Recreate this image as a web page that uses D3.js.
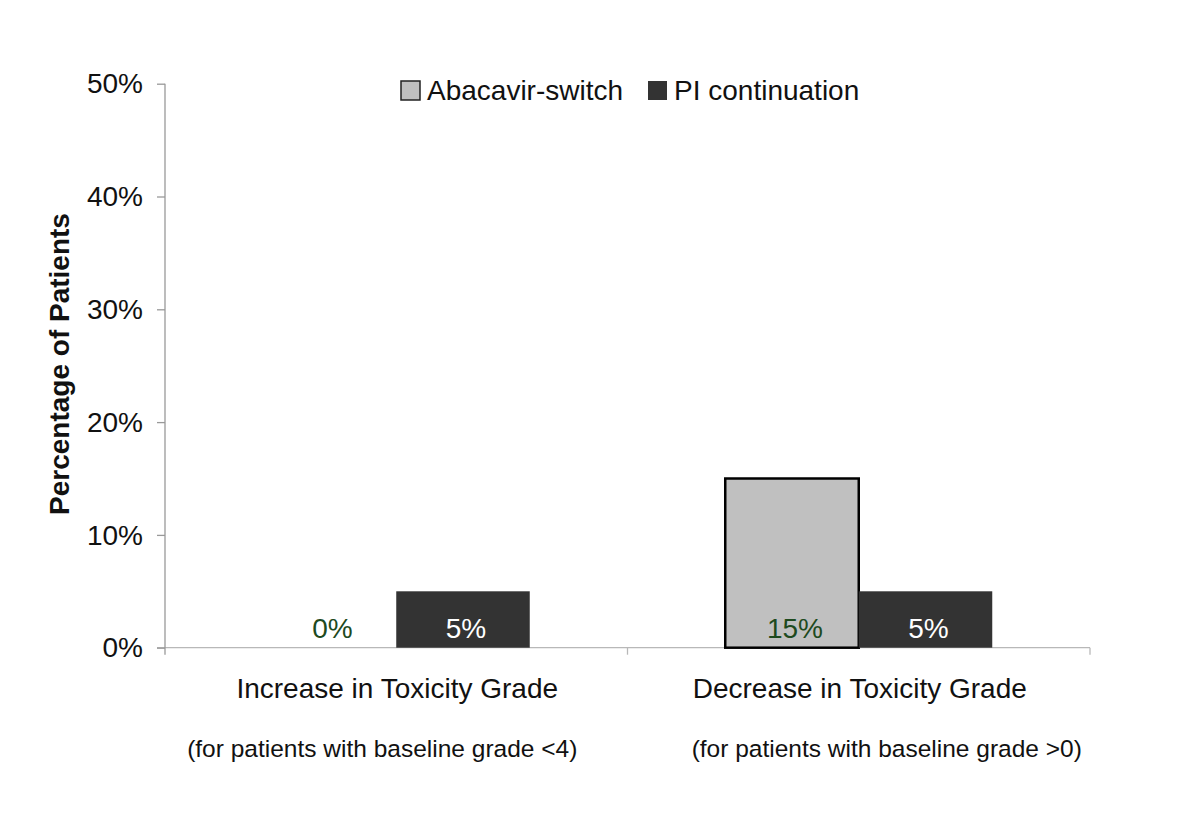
<!DOCTYPE html>
<html>
<head>
<meta charset="utf-8">
<script src="https://cdn.jsdelivr.net/npm/d3@7"></script>
<style>
  body { margin: 0; background: #fff; }
  svg { display: block; font-family: "Liberation Sans", Arial, sans-serif; }
</style>
</head>
<body>
<svg id="chart" width="1200" height="822"></svg>
<script>
const categories = ["Increase in Toxicity Grade", "Decrease in Toxicity Grade"];
const subtitles = ["(for patients with baseline grade <4)", "(for patients with baseline grade >0)"];
const seriesNames = ["Abacavir-switch", "PI continuation"];
const abacavirSwitch = [0, 0.15];
const piContinuation = [0.05, 0.05];
const yTicks = [0, 0.1, 0.2, 0.3, 0.4, 0.5];

(function () {
const svg = d3.select("#chart");
const mLeft = 165, mRight = 1090, mTop = 83.7, mBottom = 647.7;

const y = d3.scaleLinear().domain([0, 0.5]).range([mBottom, mTop]);
const x = d3.scaleBand().domain(categories).range([mLeft, mRight]).padding(0);
const barW = 133.5;
const xs = d3.scaleBand().domain(seriesNames).range([0, barW * 2]).padding(0);
const offset = (x.bandwidth() - barW * 2) / 2;

const fills = {"Abacavir-switch": "#c0c0c0", "PI continuation": "#333333"};
const labelColors = {"Abacavir-switch": "#1e4a1e", "PI continuation": "#ffffff"};

// x axis line
svg.append("line").attr("x1", mLeft - 8).attr("x2", mRight).attr("y1", mBottom).attr("y2", mBottom)
  .attr("stroke", "#b8b8b8").attr("stroke-width", 1.3);
const xBounds = [mLeft + x.bandwidth(), mRight];
svg.selectAll(".xtick").data(xBounds).enter().append("line")
  .attr("x1", d => d).attr("x2", d => d).attr("y1", mBottom).attr("y2", mBottom + 7)
  .attr("stroke", "#b8b8b8").attr("stroke-width", 1.3);

// y axis
const yAxis = d3.axisLeft(y).tickValues(yTicks).tickFormat(d3.format(".0%")).tickSize(8).tickPadding(14);
const gy = svg.append("g").attr("transform", `translate(${mLeft},0)`).call(yAxis);
gy.select(".domain").attr("d", `M0,${mTop}V${mBottom + 7}`).attr("stroke", "#999").attr("stroke-width", 1.3);
gy.selectAll(".tick line").attr("stroke", "#999").attr("stroke-width", 1.3);
gy.selectAll(".tick text").attr("font-size", 28).attr("fill", "#111")
  .attr("font-family", "Liberation Sans, Arial, sans-serif").attr("dy", "0.33em");

// y title
svg.append("text").attr("transform", "translate(69,364) rotate(-90)")
  .attr("text-anchor", "middle").attr("font-size", 28).attr("font-weight", "bold").attr("fill", "#111")
  .text("Percentage of Patients");

// bars
const rows = categories.map((c, i) => ({cat: c, vals: [
  {s: seriesNames[0], v: abacavirSwitch[i]},
  {s: seriesNames[1], v: piContinuation[i]}
]}));

const groups = svg.selectAll(".grp").data(rows).enter().append("g")
  .attr("transform", d => `translate(${x(d.cat) + offset},0)`);

groups.selectAll("rect").data(d => d.vals.filter(e => e.v > 0)).enter().append("rect")
  .attr("x", d => xs(d.s)).attr("width", xs.bandwidth())
  .attr("y", d => y(d.v)).attr("height", d => y(0) - y(d.v))
  .attr("fill", d => fills[d.s])
  .attr("stroke", d => d.s === seriesNames[0] ? "#000" : "none")
  .attr("stroke-width", 2.5);

groups.selectAll("text.val").data(d => d.vals).enter().append("text")
  .attr("class", "val")
  .attr("x", d => xs(d.s) + xs.bandwidth() / 2 + 3)
  .attr("y", y(0) - 10)
  .attr("text-anchor", "middle").attr("font-size", 28)
  .attr("fill", d => labelColors[d.s])
  .text(d => d3.format(".0%")(d.v));

// category labels
svg.selectAll(".cat").data(categories).enter().append("text")
  .attr("x", d => x(d) + x.bandwidth() / 2 + 1)
  .attr("y", 698).attr("text-anchor", "middle").attr("font-size", 28).attr("fill", "#111")
  .text(d => d);

const subShift = [-14, 28];
svg.selectAll(".sub").data(subtitles).enter().append("text")
  .attr("x", (d, i) => x(categories[i]) + x.bandwidth() / 2 + subShift[i])
  .attr("y", 757).attr("text-anchor", "middle").attr("font-size", 24.5).attr("fill", "#111")
  .text(d => d);

// legend
const legendX = [401, 648];
const lg = svg.selectAll(".lg").data(seriesNames).enter().append("g")
  .attr("transform", (d, i) => `translate(${legendX[i]},81)`);
lg.append("rect").attr("width", 19).attr("height", 19)
  .attr("fill", d => fills[d])
  .attr("stroke", d => d === seriesNames[0] ? "#222" : "none").attr("stroke-width", 1.5);
lg.append("text").attr("x", 26).attr("y", 18.5).attr("font-size", 28).attr("fill", "#111").text(d => d);
})();
</script>
</body>
</html>
